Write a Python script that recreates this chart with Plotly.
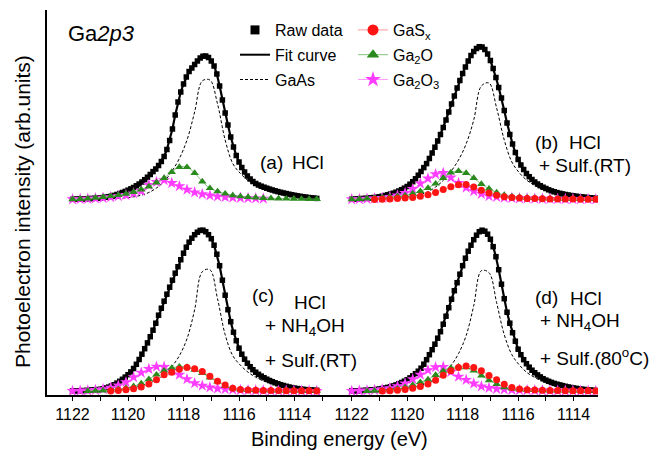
import plotly.graph_objects as go

# ---------------- data ----------------
N_RAW = 89
N_CMP = 33
energy_raw = [round(1122.0 - 0.1 * i, 2) for i in range(N_RAW)]     # 1122.0 ... 1113.2
energy_cmp = [round(1122.0 - 0.275 * i, 3) for i in range(N_CMP)]   # 1122.0 ... 1113.2

tick_vals = [1122, 1120, 1118, 1116, 1114]
tick_text = ["1122", "1120", "1118", "1116", "1114"]

raw_a = [0.7, 0.8, 0.9, 1.0, 1.1, 1.2, 1.4, 1.5, 1.7, 1.9,
         2.1, 2.4, 2.8, 3.3, 3.9, 4.6, 5.5, 6.5, 7.5, 8.6,
         9.8, 11.1, 12.5, 14.2, 16.0, 18.0, 20.3, 22.8, 25.5, 28.4,
         31.0, 34.5, 38.5, 43.5, 50.5, 59.5, 71.0, 85.0, 98.0, 108.0,
         116.0, 123.0, 128.5, 132.0, 135.5, 139.0, 142.0, 143.8, 144.0, 142.5,
         139.0, 134.0, 126.0, 114.0, 100.0, 87.0, 75.0, 63.0, 53.0, 44.5,
         38.0, 32.5, 28.0, 24.0, 21.0, 18.5, 16.5, 15.0, 13.8, 12.8,
         11.8, 10.9, 10.0, 9.2, 8.4, 7.7, 7.0, 6.4, 5.8, 5.2,
         4.7, 4.2, 3.7, 3.3, 2.9, 2.5, 2.2, 1.9, 1.6]
raw_b = [0.8, 0.9, 1.1, 1.3, 1.5, 1.7, 1.9, 2.2, 2.5, 2.8,
         3.2, 3.8, 4.5, 5.2, 6.0, 6.8, 7.8, 9.0, 10.3, 11.8,
         13.5, 15.8, 18.3, 21.2, 24.8, 28.5, 32.4, 36.4, 41.5, 47.0,
         52.8, 59.0, 65.5, 72.5, 80.0, 88.0, 96.0, 104.0, 112.0, 119.5,
         126.5, 133.0, 139.0, 144.5, 148.5, 151.5, 153.3, 153.0, 150.5, 146.0,
         139.5, 131.5, 122.5, 112.5, 102.0, 89.5, 77.0, 65.5, 56.0, 47.5,
         40.5, 35.0, 30.5, 26.5, 23.3, 20.5, 18.0, 16.0, 14.3, 12.8,
         11.5, 10.2, 9.1, 8.2, 7.4, 6.7, 6.1, 5.5, 5.0, 4.5,
         4.1, 3.7, 3.4, 3.1, 2.8, 2.5, 2.2, 2.0, 1.8]
raw_c = [0.7, 0.8, 0.9, 1.0, 1.1, 1.3, 1.5, 1.7, 1.9, 2.1,
         2.4, 3.0, 3.8, 4.6, 5.7, 7.0, 8.6, 10.4, 12.4, 14.6,
         17.0, 19.8, 23.2, 27.4, 32.2, 37.5, 43.0, 48.8, 55.0, 61.5,
         68.5, 76.5, 83.5, 90.5, 97.5, 104.5, 111.5, 118.5, 125.0, 132.0,
         138.5, 144.5, 149.5, 153.5, 157.0, 159.5, 161.3, 161.5, 160.0, 157.0,
         153.0, 146.5, 137.5, 126.0, 111.5, 96.5, 82.0, 70.0, 59.5, 51.0,
         43.5, 37.5, 32.5, 28.5, 25.0, 22.0, 19.5, 17.4, 15.6, 14.0,
         12.5, 11.2, 10.0, 8.9, 7.9, 7.0, 6.2, 5.4, 4.7, 4.1,
         3.6, 3.1, 2.7, 2.4, 2.1, 1.9, 1.7, 1.5, 1.4]
raw_d = [0.7, 0.8, 0.9, 1.0, 1.2, 1.4, 1.6, 1.8, 2.0, 2.3,
         2.7, 3.2, 3.7, 4.3, 5.0, 5.8, 6.8, 8.0, 9.2, 10.5,
         12.0, 13.8, 15.8, 18.0, 20.5, 23.5, 27.5, 32.0, 37.0, 42.0,
         47.5, 53.5, 60.0, 67.5, 75.5, 84.0, 92.5, 101.0, 109.0, 117.5,
         126.0, 133.5, 140.5, 146.5, 152.0, 156.5, 160.0, 161.5, 160.5, 157.5,
         152.5, 145.0, 135.0, 122.0, 107.5, 93.0, 79.5, 68.5, 59.0, 50.5,
         42.5, 37.0, 32.0, 28.0, 24.5, 21.5, 19.0, 16.8, 14.8, 13.0,
         11.6, 10.4, 9.3, 8.3, 7.5, 6.8, 6.1, 5.4, 4.8, 4.2,
         3.7, 3.3, 2.9, 2.5, 2.2, 1.9, 1.6, 1.4, 1.2]

gaas_a = [0.3, 0.4, 0.5, 0.7, 0.9, 1.2, 1.6, 2.2, 3.2, 4.8, 7.5, 12.0, 18.5, 28.5, 41.5, 60.0, 88.0,
          119.0, 120.0, 96.0, 60.0, 36.5, 26.5, 19.5, 14.5, 10.5, 8.0, 6.2, 4.8, 3.8, 3.0, 2.4, 2.0]
gaas_b = [0.3, 0.4, 0.5, 0.7, 0.9, 1.2, 1.7, 2.4, 3.5, 5.3, 8.3, 13.0, 19.5, 28.5, 40.0, 56.0, 80.0,
          114.0, 117.0, 92.0, 60.0, 38.0, 27.0, 19.5, 14.5, 10.8, 8.2, 6.3, 4.9, 3.9, 3.1, 2.5, 2.0]
gaas_c = [0.4, 0.5, 0.7, 0.9, 1.2, 1.7, 2.4, 3.3, 4.6, 6.3, 8.5, 11.8, 17.0, 25.0, 36.0, 53.0, 82.0,
          120.0, 122.0, 93.0, 57.0, 36.0, 26.5, 19.5, 14.5, 10.8, 8.2, 6.3, 4.9, 3.9, 3.1, 2.5, 2.0]
gaas_d = [0.4, 0.5, 0.7, 0.9, 1.2, 1.7, 2.4, 3.3, 4.6, 6.3, 8.6, 12.0, 17.5, 26.0, 38.0, 56.0, 86.0,
          121.0, 119.0, 89.0, 57.0, 37.0, 26.5, 19.0, 14.3, 10.7, 8.1, 6.2, 4.8, 3.8, 3.0, 2.4, 1.9]

gasx_b = [None, None, None, 0.5, 0.7, 1.0, 1.4, 1.9, 2.6, 3.8, 5.3, 7.6, 10.5, 13.2, 15.3, 15.5, 13.0,
          9.8, 7.0, 4.8, 3.3, 2.4, 1.9, 1.6, 1.4, 1.2, 1.1, 1.0, 0.9, 0.9, 0.8, 0.8, 0.7]
gasx_c = [None, None, None, None, None, 0.8, 1.2, 1.9, 3.0, 4.6, 7.8, 12.0, 17.0, 19.5, 22.5, 24.2, 23.0,
          20.3, 15.5, 10.5, 6.8, 3.5, 2.3, 1.8, 1.5, 1.3, 1.2, 1.1, 1.0, 1.0, 0.9, 0.9, 0.8]
gasx_d = [None, None, None, None, 0.7, 1.0, 1.5, 2.3, 3.5, 5.3, 7.8, 11.5, 16.5, 21.0, 24.3, 25.6, 24.2,
          21.0, 16.3, 12.0, 7.5, 4.3, 2.7, 2.0, 1.6, 1.4, 1.2, 1.1, 1.0, 1.0, 0.9, 0.9, 0.8]

ga2o_a = [0.7, 1.0, 1.5, 2.2, 3.0, 3.8, 4.8, 6.2, 8.0, 10.5, 13.5, 17.5, 22.0, 28.0, 33.0, 32.8, 27.0,
          18.5, 11.8, 8.6, 6.3, 4.6, 3.6, 2.9, 2.4, 2.0, 1.7, 1.5, 1.3, 1.2, 1.1, 1.0, 0.9]
ga2o_b = [0.7, 1.0, 1.4, 1.9, 2.5, 3.1, 3.8, 4.6, 6.4, 8.8, 12.0, 16.3, 22.0, 27.5, 29.0, 27.0, 22.0,
          16.0, 11.3, 7.4, 5.0, 3.6, 2.7, 2.2, 1.9, 1.6, 1.4, 1.3, 1.2, 1.1, 1.0, 0.9, 0.9]
ga2o_c = [None, None, 0.6, 0.8, 1.2, 1.7, 2.5, 3.6, 5.4, 8.2, 12.5, 17.0, 21.0, 23.8, 25.0, 24.8, 21.8,
          18.6, 14.2, 10.2, 5.8, 3.0, 2.0, 1.6, 1.4, 1.3, 1.2, 1.1, 1.0, 1.0, 0.9, 0.9, 0.8]
ga2o_d = [None, None, 0.6, 0.9, 1.3, 2.0, 3.0, 4.5, 6.6, 9.5, 12.2, 16.6, 20.8, 23.8, 25.0, 24.3, 21.0,
          16.0, 11.4, 7.6, 4.3, 3.0, 2.2, 1.8, 1.5, 1.3, 1.2, 1.1, 1.0, 1.0, 0.9, 0.9, 0.8]

ga2o3_a = [0.7, 0.9, 1.2, 1.6, 2.2, 2.9, 3.8, 5.0, 6.6, 9.0, 15.0, 18.0, 19.8, 17.0, 13.8, 10.3, 7.6,
           5.8, 4.6, 3.6, 3.0, 2.5, 2.1, 1.8, 1.6, 1.4, None, None, None, None, None, None, None]
ga2o3_b = [0.7, 0.9, 1.2, 1.6, 2.1, 3.0, 4.5, 7.0, 11.0, 16.5, 21.5, 25.8, 27.0, 22.5, 17.0, 12.3, 8.8,
           6.2, 3.8, 3.1, 2.4, 2.0, 1.7, 1.5, 1.3, 1.2, 1.1, 1.0, 0.9, 0.9, 0.8, 0.8, 0.7]
ga2o3_c = [0.7, 0.9, 1.2, 1.7, 2.6, 3.9, 6.2, 9.5, 14.5, 19.0, 22.7, 25.0, 24.8, 21.0, 17.0, 12.5, 8.5,
           6.0, 4.3, 3.2, 2.5, 2.0, 1.7, 1.5, 1.3, 1.2, 1.1, 1.0, 0.9, 0.9, 0.8, 0.8, 0.7]
ga2o3_d = [0.7, 0.9, 1.2, 1.7, 2.5, 3.6, 5.4, 8.2, 12.5, 17.0, 21.5, 24.5, 24.8, 19.8, 15.0, 11.8, 8.2,
           5.3, 3.8, 2.9, 2.3, 1.9, 1.7, 1.5, 1.3, 1.2, 1.1, 1.0, 0.9, 0.9, 0.8, 0.8, 0.7]

# ---------------- styling ----------------
FONT = "Liberation Sans, Arial, sans-serif"
RED, RED_L = "#ff1414", "#ff9a9a"
GRN, GRN_L = "#2a8a1e", "#86c27e"
MAG, MAG_L = "#ff3cff", "#ff9cff"

PL, PT, PW, PH = 47, 10, 551, 385   # plot area in pixels


def px(x):
    return (x - PL) / PW


def py(y):
    return (PT + PH - y) / PH


split = px(337)
row_split = py(205)

panels = [
    dict(xa="x3", ya="y", raw=raw_a, gaas=gaas_a, gasx=None, ga2o=ga2o_a, ga2o3=ga2o3_a),
    dict(xa="x4", ya="y", raw=raw_b, gaas=gaas_b, gasx=gasx_b, ga2o=ga2o_b, ga2o3=ga2o3_b),
    dict(xa="x", ya="y2", raw=raw_c, gaas=gaas_c, gasx=gasx_c, ga2o=ga2o_c, ga2o3=ga2o3_c),
    dict(xa="x2", ya="y2", raw=raw_d, gaas=gaas_d, gasx=gasx_d, ga2o=ga2o_d, ga2o3=ga2o3_d),
]

fig = go.Figure()

for p in panels:
    common = dict(xaxis=p["xa"], yaxis=p["ya"], showlegend=False, hoverinfo="skip")
    fig.add_trace(go.Scatter(x=energy_raw, y=p["raw"], mode="lines",
                             line=dict(color="black", width=2.2), **common))
    fig.add_trace(go.Scatter(x=energy_raw, y=p["raw"], mode="markers",
                             marker=dict(symbol="square", size=5.5, color="black"), **common))
    fig.add_trace(go.Scatter(x=energy_cmp, y=p["gaas"], mode="lines",
                             line=dict(color="black", width=1, dash="3px,2px", shape="spline"), **common))
    fig.add_trace(go.Scatter(x=energy_cmp, y=p["ga2o3"], mode="lines+markers",
                             line=dict(color=MAG_L, width=1, shape="spline"),
                             marker=dict(symbol="star", size=9, color=MAG, line=dict(width=0)), **common))
    fig.add_trace(go.Scatter(x=energy_cmp, y=p["ga2o"], mode="lines+markers",
                             line=dict(color=GRN_L, width=1, shape="spline"),
                             marker=dict(symbol="triangle-up", size=7.5, color=GRN, line=dict(width=0)), **common))
    if p["gasx"] is not None:
        fig.add_trace(go.Scatter(x=energy_cmp, y=p["gasx"], mode="lines+markers",
                                 line=dict(color=RED_L, width=1, shape="spline"),
                                 marker=dict(symbol="circle", size=7, color=RED, line=dict(width=0)), **common))

# legend entries
leg = [
    ("Raw data", "legend", dict(mode="markers", marker=dict(symbol="square", size=9, color="black"))),
    ("Fit curve", "legend", dict(mode="lines", line=dict(color="black", width=2))),
    ("GaAs", "legend", dict(mode="lines", line=dict(color="black", width=1, dash="3px,2px"))),
    ("GaS<sub>x</sub>", "legend2", dict(mode="lines+markers", line=dict(color=RED_L, width=1),
                                         marker=dict(symbol="circle", size=11, color=RED))),
    ("Ga<sub>2</sub>O", "legend2", dict(mode="lines+markers", line=dict(color=GRN_L, width=1),
                                         marker=dict(symbol="triangle-up", size=11, color=GRN))),
    ("Ga<sub>2</sub>O<sub>3</sub>", "legend2", dict(mode="lines+markers", line=dict(color=MAG_L, width=1),
                                                    marker=dict(symbol="star", size=12, color=MAG))),
]
for i, (name, lg, kw) in enumerate(leg):
    fig.add_trace(go.Scatter(x=[None], y=[None], name=name, legend=lg, legendgroup="g%d" % i,
                             showlegend=True, xaxis="x3", yaxis="y", **kw))

xa_common = dict(showgrid=False, zeroline=False, showline=True, linecolor="black", linewidth=1.5,
                 ticks="outside", ticklen=4, tickwidth=1.2, tickcolor="black",
                 tickvals=tick_vals, ticktext=tick_text,
                 tickfont=dict(family=FONT, size=16, color="black"),
                 minor=dict(ticks="outside", ticklen=4, tickwidth=1.2, tickcolor="black",
                            tickvals=[1123, 1121, 1119, 1117, 1115, 1113]))
hidden = dict(visible=False, showgrid=False, zeroline=False)
ya_common = dict(showgrid=False, zeroline=False, showline=True, linecolor="black", linewidth=1.5,
                 ticks="", showticklabels=False)

leg_common = dict(font=dict(family=FONT, size=16, color="black"), bgcolor="rgba(0,0,0,0)",
                  borderwidth=0, traceorder="grouped", tracegroupgap=1, itemwidth=30,
                  yanchor="top", xanchor="left", itemclick=False, itemdoubleclick=False)

fig.update_layout(
    width=655, height=450,
    margin=dict(l=PL, r=655 - PL - PW, t=PT, b=450 - PT - PH, pad=0),
    paper_bgcolor="white", plot_bgcolor="white",
    font=dict(family=FONT, color="black"),
    xaxis=dict(domain=[0, split], range=[1122.92, 1112.47], anchor="y2", **xa_common),
    xaxis2=dict(domain=[split, 1], range=[1122.53, 1113.12], anchor="y2", **xa_common),
    xaxis3=dict(domain=[0, split], range=[1122.92, 1112.47], anchor="y", **hidden),
    xaxis4=dict(domain=[split, 1], range=[1122.53, 1113.12], anchor="y", **hidden),
    yaxis=dict(domain=[row_split, 1], range=[-5, 190], anchor="x3", **ya_common),
    yaxis2=dict(domain=[0, row_split], range=[-3.3, 186.7], anchor="x", **ya_common),
    legend=dict(x=px(235), y=py(13), **leg_common),
    legend2=dict(x=px(353), y=py(13), **leg_common),
)

texts = [
    ("Ga<i>2p3</i>", 66, 33, 22),
    ("(a)", 258, 162, 19), ("HCl", 290, 162, 19),
    ("(b)", 533, 142, 19), ("HCl", 567, 142, 19), ("+ Sulf.(RT)", 537, 165, 19),
    ("(c)", 250, 295, 19), ("HCl", 292, 302, 19),
    ("+ NH<sub>4</sub>OH", 263, 327, 19), ("+ Sulf.(RT)", 263, 360, 19),
    ("(d)", 533, 297, 19), ("HCl", 568, 298, 19),
    ("+ NH<sub>4</sub>OH", 538, 322, 19), ("+ Sulf.(80<sup>o</sup>C)", 538, 357, 19),
]
for t, x, y, s in texts:
    fig.add_annotation(text=t, x=px(x), y=py(y), xref="paper", yref="paper", xanchor="left",
                       yanchor="middle", showarrow=False, font=dict(family=FONT, size=s, color="black"))

fig.add_annotation(text="Binding energy (eV)", x=px(339), y=py(439), xref="paper", yref="paper",
                   xanchor="center", yanchor="middle", showarrow=False,
                   font=dict(family=FONT, size=20, color="black"))
fig.add_annotation(text="Photoelectron intensity (arb.units)", x=px(23), y=py(212), xref="paper",
                   yref="paper", xanchor="center", yanchor="middle", textangle=-90, showarrow=False,
                   font=dict(family=FONT, size=21, color="black"))

fig.write_html("out.html", config={"displayModeBar": False},
               post_script="document.body.style.margin='0px';")
